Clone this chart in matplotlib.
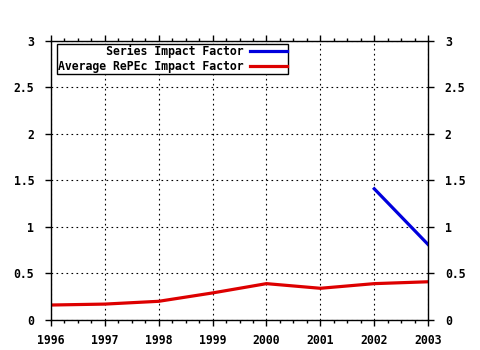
import matplotlib
matplotlib.use("Agg")
import matplotlib.pyplot as plt
from matplotlib.ticker import MultipleLocator, FormatStrFormatter, FuncFormatter

years = [1996, 1997, 1998, 1999, 2000, 2001, 2002, 2003]
avg_repec = [0.16, 0.17, 0.20, 0.29, 0.39, 0.34, 0.39, 0.41]
series_years = [2002, 2003]
series_if = [1.41, 0.81]

plt.rcParams['font.family'] = 'DejaVu Sans Mono'
plt.rcParams['font.weight'] = 'bold'
plt.rcParams['font.size'] = 8.3

fig = plt.figure(figsize=(4.8, 3.5), dpi=100)
ax = fig.add_axes([0.106, 0.086, 0.786, 0.797])

ax.plot(series_years, series_if, color="#0000dd", lw=2.3, label="       Series Impact Factor")
ax.plot(years, avg_repec, color="#dd0000", lw=2.3, label="Average RePEc Impact Factor")

ax.set_xlim(1996, 2003)
ax.set_ylim(0, 3)
ax.xaxis.set_major_locator(MultipleLocator(1))
ax.xaxis.set_minor_locator(MultipleLocator(0.25))
ax.yaxis.set_major_locator(MultipleLocator(0.5))
ax.xaxis.set_major_formatter(FormatStrFormatter("%d"))
ax.yaxis.set_major_formatter(FuncFormatter(lambda v, p: "%g" % v))
ax.tick_params(which="both", direction="out", top=True, right=True, labelright=True, color="black")
ax.tick_params(which="major", length=4, width=1, pad=6)
ax.tick_params(axis="y", pad=8)
ax.tick_params(which="minor", length=2, width=1)
ax.grid(True, which="major", color="black", linestyle=(0, (1.5, 3)), lw=0.8)
for s in ax.spines.values():
    s.set_linewidth(1)

leg = ax.legend(loc="upper left", bbox_to_anchor=(0.015, 0.99), markerfirst=False,
                fancybox=False, framealpha=1, edgecolor="black", handlelength=3.2,
                borderpad=0.1, labelspacing=0.15, handletextpad=0.6, borderaxespad=0)
leg.get_frame().set_linewidth(1)

fig.savefig("out.png", dpi=100)
